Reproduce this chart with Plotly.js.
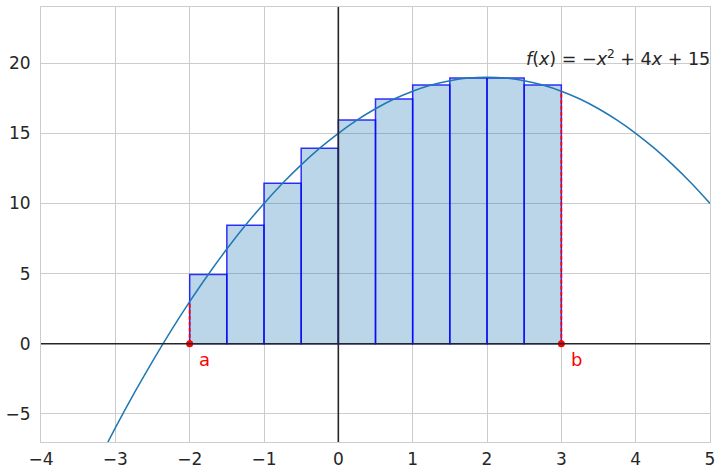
<!DOCTYPE html>
<html>
<head>
<meta charset="utf-8">
<script src="https://cdn.plot.ly/plotly-3.0.1.min.js"></script>
<style>html,body{margin:0;padding:0;background:#fff;}#chart{width:723px;height:474px;}</style>
</head>
<body>
<div id="chart"></div>
<script>
// Curve samples f(x) = -x^2 + 4x + 15
const curveX = [-4, -3.75, -3.5, -3.25, -3, -2.75, -2.5, -2.25, -2, -1.75, -1.5, -1.25, -1, -0.75, -0.5, -0.25, 0, 0.25, 0.5, 0.75, 1, 1.25, 1.5, 1.75, 2, 2.25, 2.5, 2.75, 3, 3.25, 3.5, 3.75, 4, 4.25, 4.5, 4.75, 5];
const curveY = [-17, -14.06, -11.25, -8.56, -6, -3.56, -1.25, 0.94, 3, 4.94, 6.75, 8.44, 10, 11.44, 12.75, 13.94, 15, 15.94, 16.75, 17.44, 18, 18.44, 18.75, 18.94, 19, 18.94, 18.75, 18.44, 18, 17.44, 16.75, 15.94, 15, 13.94, 12.75, 11.44, 10];

// Rectangles (midpoint rule), centres and heights
const barX = [-1.75, -1.25, -0.75, -0.25, 0.25, 0.75, 1.25, 1.75, 2.25, 2.75];
const barH = [4.94, 8.44, 11.44, 13.94, 15.94, 17.44, 18.44, 18.94, 18.94, 18.44];
const barWidth = 0.5;

// Bounds a and b
const boundX = [-2, 3];
const boundY = [3, 18];
const boundLabels = ['a', 'b'];

const xTicks = [-4, -3, -2, -1, 0, 1, 2, 3, 4, 5];
const yTicks = [-5, 0, 5, 10, 15, 20];

const traces = [
  {
    type: 'bar', x: barX, y: barH, width: barX.map(() => barWidth),
    marker: {color: 'rgba(31,119,180,0.3)', line: {color: 'rgba(0,0,255,0.8)', width: 1.5}},
    hoverinfo: 'skip', showlegend: false
  },
  {
    type: 'scatter', mode: 'lines', x: curveX, y: curveY,
    line: {color: '#1f77b4', width: 1.5, shape: 'spline'},
    hoverinfo: 'skip', showlegend: false
  }
];
boundX.forEach((bx, i) => {
  traces.push({
    type: 'scatter', mode: 'lines', x: [bx, bx], y: [0, boundY[i]],
    line: {color: 'red', width: 1.8, dash: '4px,2px'}, hoverinfo: 'skip', showlegend: false
  });
});
traces.push({
  type: 'scatter', mode: 'markers', x: boundX, y: boundX.map(() => 0),
  marker: {color: 'red', size: 7}, hoverinfo: 'skip', showlegend: false
});

const annotations = boundX.map((bx, i) => ({
  x: bx + 0.1, y: 0, xref: 'x', yref: 'y', text: boundLabels[i], showarrow: false,
  xanchor: 'left', yanchor: 'top', yshift: -3,
  font: {family: 'DejaVu Sans', size: 18, color: 'red'}
}));
annotations.push({
  x: 2.5, y: 20, xref: 'x', yref: 'y', showarrow: false, xanchor: 'left', yanchor: 'bottom', yshift: -8,
  text: '<i>f</i>(<i>x</i>) = −<i>x</i><sup>2</sup> + 4<i>x</i> + 15',
  font: {family: 'DejaVu Sans', size: 17.5, color: '#262626'}
});

const axisCommon = {
  showgrid: true, gridcolor: '#cccccc', gridwidth: 1,
  zeroline: false,
  showline: true, linecolor: '#cccccc', linewidth: 1, mirror: true,
  ticks: '', tickfont: {family: 'DejaVu Sans', size: 17, color: '#262626'},
  tickmode: 'array', fixedrange: true
};

const layout = {
  width: 723, height: 474,
  margin: {l: 41, r: 13, t: 7, b: 32},
  paper_bgcolor: '#ffffff', plot_bgcolor: '#ffffff',
  xaxis: Object.assign({}, axisCommon, {range: [-4, 5], tickvals: xTicks, ticklabelstandoff: 2}),
  yaxis: Object.assign({}, axisCommon, {range: [-7, 24], tickvals: yTicks, ticklabelstandoff: 6}),
  bargap: 0,
  annotations: annotations,
  shapes: [
    {type: 'line', layer: 'above', xref: 'x', yref: 'paper', x0: 0, x1: 0, y0: 0, y1: 1,
     line: {color: '#262626', width: 1.6}},
    {type: 'line', layer: 'above', xref: 'paper', yref: 'y', x0: 0, x1: 1, y0: 0, y1: 0,
     line: {color: '#262626', width: 1.6}}
  ],
  showlegend: false
};

Plotly.newPlot('chart', traces, layout, {displayModeBar: false, staticPlot: true});
</script>
</body>
</html>
